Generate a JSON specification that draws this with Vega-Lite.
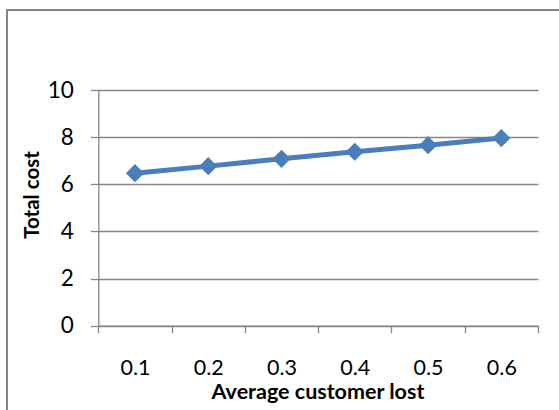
{
  "$schema": "https://vega.github.io/schema/vega-lite/v6.json",
  "autosize": {"type": "none"},
  "padding": {"left": 7, "top": 10, "right": 0, "bottom": 0},
  "width": 552,
  "height": 400,
  "background": "white",
  "config": {
    "view": {"stroke": "#868686", "strokeWidth": 2, "strokeDash": [552, 952, 400]},
    "font": "Lato"
  },
  "data": {
    "values": [
      {"lost": "0.1", "cost": 6.47},
      {"lost": "0.2", "cost": 6.77},
      {"lost": "0.3", "cost": 7.08},
      {"lost": "0.4", "cost": 7.38},
      {"lost": "0.5", "cost": 7.66},
      {"lost": "0.6", "cost": 7.96}
    ]
  },
  "mark": {
    "type": "line",
    "color": "#4a7ebb",
    "strokeWidth": 5,
    "point": {"shape": "diamond", "size": 330, "filled": true, "color": "#4a7ebb", "opacity": 1}
  },
  "encoding": {
    "x": {
      "field": "lost",
      "type": "ordinal",
      "bandPosition": 0.5,
      "scale": {"type": "band", "range": [91.3, 531], "paddingInner": 0, "paddingOuter": 0},
      "axis": {
        "orient": "bottom",
        "offset": -84.3,
        "tickBand": "extent",
        "tickSize": 7,
        "tickColor": "#868686",
        "tickWidth": 1.3,
        "domainColor": "#868686",
        "domainWidth": 1.3,
        "grid": false,
        "labelAngle": 0,
        "labelFont": "Lato",
        "labelFontSize": 21.5,
        "labelColor": "#000000",
        "labelBaseline": "middle",
        "labelPadding": 36,
        "title": "Average customer lost",
        "titleFont": "Lato",
        "titleFontSize": 21.5,
        "titleFontWeight": "bold",
        "titleColor": "#000000",
        "titleX": 310.5,
        "titleY": 66.5,
        "titleBaseline": "middle",
        "titleAlign": "center"
      }
    },
    "y": {
      "field": "cost",
      "type": "quantitative",
      "scale": {"domain": [0, 10], "range": [315.7, 80], "nice": false},
      "axis": {
        "orient": "left",
        "offset": -91.3,
        "values": [0, 2, 4, 6, 8, 10],
        "grid": true,
        "gridColor": "#868686",
        "gridWidth": 1.3,
        "tickSize": 8,
        "tickColor": "#868686",
        "tickWidth": 1.3,
        "domainColor": "#868686",
        "domainWidth": 1.3,
        "labelFont": "Lato",
        "labelFontSize": 22.5,
        "labelColor": "#000000",
        "labelPadding": 17,
        "title": "Total cost",
        "titleFont": "Lato",
        "titleFontSize": 20.5,
        "titleFontWeight": "bold",
        "titleColor": "#000000",
        "titleAngle": -90,
        "titleX": -65.8,
        "titleY": 184.5,
        "titleAlign": "center",
        "titleBaseline": "middle"
      }
    }
  }
}
